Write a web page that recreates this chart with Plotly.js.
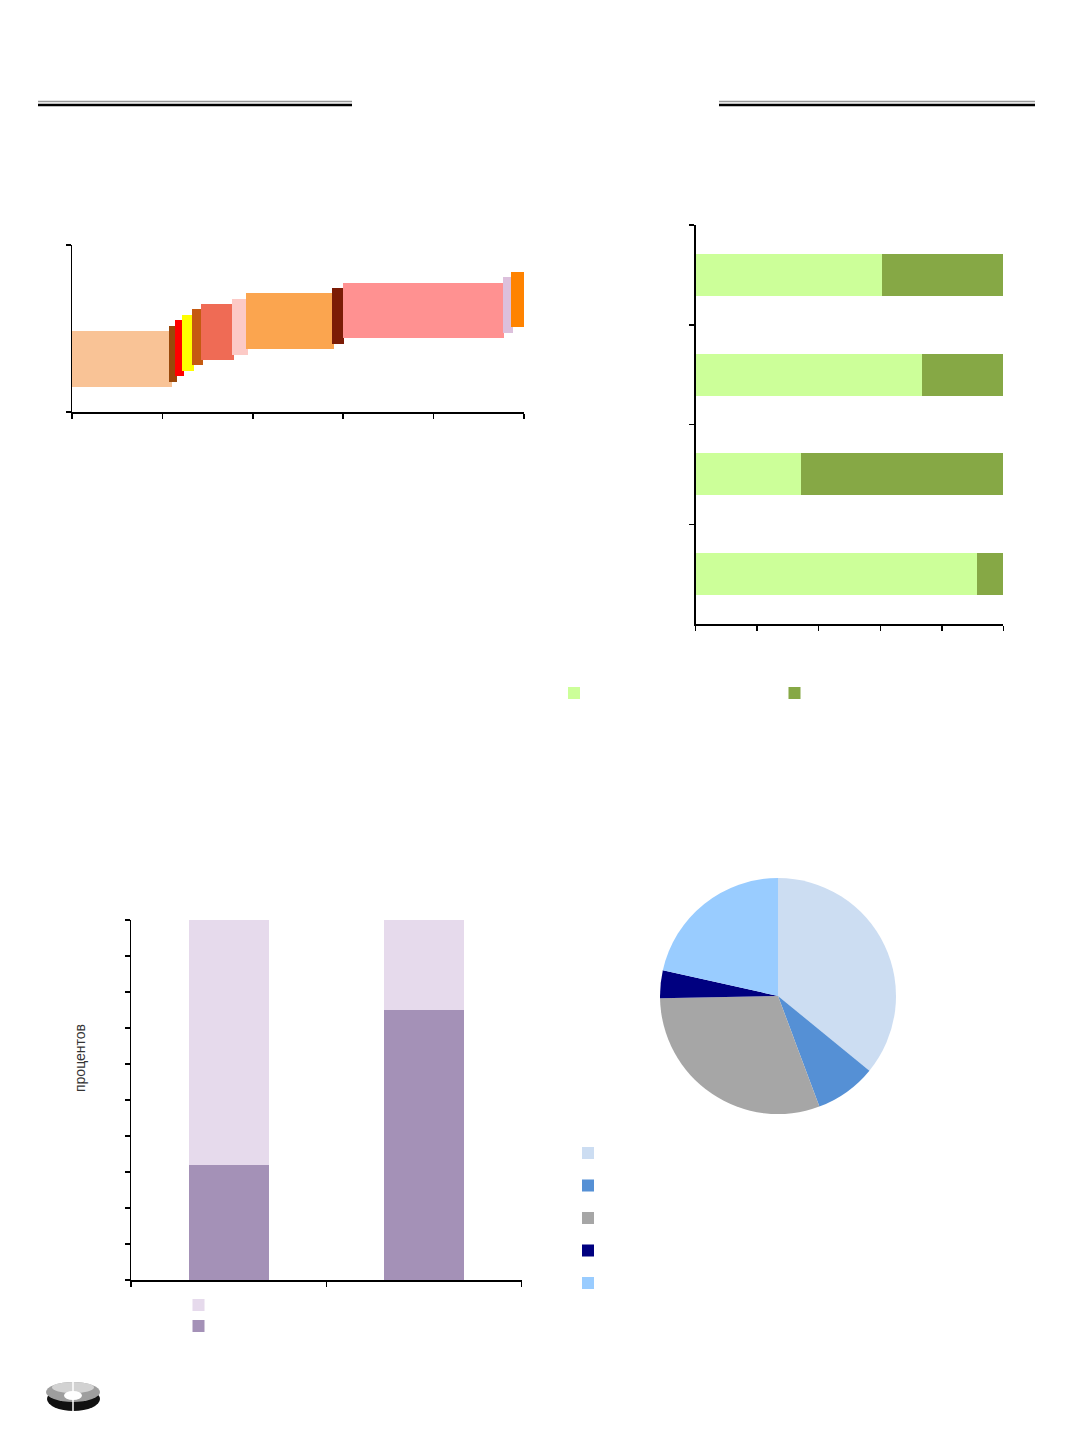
<!DOCTYPE html>
<html>
<head>
<meta charset="utf-8">
<script src="https://cdn.plot.ly/plotly-3.0.1.min.js"></script>
<style>
  html, body { margin: 0; padding: 0; background: #ffffff; }
  #chart { width: 1072px; height: 1433px; }
</style>
</head>
<body>
<div id="chart"></div>
<script>
// ---------- Chart 1 (top left): floating variable-width bars ----------
const c1Start = [0, 21.5, 22.85, 24.4, 26.55, 28.5, 35.4, 38.6, 57.6, 60.0, 95.3, 97.1];
const c1End   = [22.05, 23.2, 24.85, 26.9, 28.9, 35.8, 38.9, 58.0, 60.2, 95.6, 97.5, 100];
const c1Low   = [15.1, 18.1, 21.6, 24.7, 28.0, 31.1, 34.3, 37.5, 40.7, 44.5, 47.3, 50.7];
const c1High  = [48.5, 51.5, 55.1, 58.1, 61.5, 64.7, 67.8, 71.3, 74.3, 77.2, 80.8, 84.0];
const c1Colors = ['#F9C396', '#99480A', '#FF0000', '#FFFF00', '#C55A11', '#EF6B55',
                  '#FCCAC6', '#FBA54F', '#7B1C06', '#FF9191', '#DCC0DC', '#FF8300'];

// ---------- Chart 2 (top right): 100% stacked horizontal bars ----------
const c2Categories = ['1', '2', '3', '4'];          // top to bottom
const c2Light = [60.7, 73.6, 34.2, 91.5];
const c2Dark  = [39.3, 26.4, 65.8, 8.5];

// ---------- Chart 3 (bottom left): 100% stacked columns ----------
const c3Categories = ['1', '2'];
const c3Dark  = [32, 75];
const c3Light = [68, 25];
const c3YTitle = 'процентов';

// ---------- Chart 4 (bottom right): pie ----------
const c4Labels = ['\u00a0', '\u00a0\u00a0', '\u00a0\u00a0\u00a0', '\u00a0\u00a0\u00a0\u00a0', '\u00a0\u00a0\u00a0\u00a0\u00a0'];
const c4Values = [35.9, 8.4, 30.4, 3.8, 21.5];
const c4Colors = ['#CCDDF2', '#5590D5', '#A6A6A6', '#000080', '#99CCFF'];

// ---------- helpers: page pixels -> paper fractions ----------
const W = 1072, H = 1433;
const px = v => v / W;
const py = v => 1 - v / H;

const traces = [
  {
    type: 'bar', xaxis: 'x', yaxis: 'y',
    x: c1Start, offset: 0,
    width: c1Start.map((s, i) => c1End[i] - s),
    base: c1Low,
    y: c1Low.map((b, i) => c1High[i] - b),
    marker: { color: c1Colors, line: { width: 0 } },
    showlegend: false, hoverinfo: 'skip'
  },
  {
    type: 'bar', orientation: 'h', xaxis: 'x2', yaxis: 'y2',
    y: c2Categories, x: c2Light, width: 0.42,
    name: '\u00a0', marker: { color: '#CCFF99', line: { width: 0 } },
    legend: 'legend'
  },
  {
    type: 'bar', orientation: 'h', xaxis: 'x2', yaxis: 'y2',
    y: c2Categories, x: c2Dark, width: 0.42,
    name: '\u00a0\u00a0', marker: { color: '#86A845', line: { width: 0 } },
    legend: 'legend2'
  },
  {
    type: 'bar', xaxis: 'x3', yaxis: 'y3',
    x: c3Categories, y: c3Dark, width: 0.41,
    name: '\u00a0', marker: { color: '#A491B7', line: { width: 0 } },
    legend: 'legend3'
  },
  {
    type: 'bar', xaxis: 'x3', yaxis: 'y3',
    x: c3Categories, y: c3Light, width: 0.41,
    name: '\u00a0\u00a0', marker: { color: '#E6DAEC', line: { width: 0 } },
    legend: 'legend3'
  },
  {
    type: 'pie',
    labels: c4Labels, values: c4Values,
    marker: { colors: c4Colors, line: { width: 0 } },
    sort: false, direction: 'clockwise', rotation: 0,
    textinfo: 'none', hoverinfo: 'percent',
    domain: { x: [px(778 - 118), px(778 + 118)], y: [py(996 + 118), py(996 - 118)] },
    legend: 'legend4'
  }
];

const axisBase = {
  showline: true, linecolor: '#000000', linewidth: 1.5, mirror: false,
  ticks: 'outside', ticklen: 5, tickwidth: 1.5, tickcolor: '#000000',
  showticklabels: false, showgrid: false, zeroline: false, fixedrange: true
};

function line(x0, x1, y, color, width) {
  return { type: 'line', xref: 'paper', yref: 'paper', x0: px(x0), x1: px(x1), y0: py(y), y1: py(y),
           line: { color: color, width: width } };
}
function ellipse(x0, x1, y0, y1, color) {
  return { type: 'circle', xref: 'paper', yref: 'paper', x0: px(x0), x1: px(x1), y0: py(y1), y1: py(y0),
           fillcolor: color, line: { width: 0 }, layer: 'above' };
}

const legendBase = {
  xanchor: 'left', yanchor: 'top', bgcolor: 'rgba(0,0,0,0)', borderwidth: 0,
  orientation: 'v', font: { family: 'Liberation Sans, Arial, sans-serif', size: 12, color: '#000' }
};

const layout = {
  width: W, height: H,
  margin: { l: 0, r: 0, t: 0, b: 0, pad: 0 },
  paper_bgcolor: '#ffffff', plot_bgcolor: '#ffffff',
  font: { family: 'Liberation Sans, Arial, sans-serif', size: 12, color: '#000' },
  barmode: 'stack',
  showlegend: true,
  xaxis: Object.assign({}, axisBase, { domain: [px(72), px(524)], range: [0, 100], dtick: 20, tick0: 0, anchor: 'y' }),
  yaxis: Object.assign({}, axisBase, { domain: [py(412), py(245)], range: [0, 100], tickvals: [0, 100], anchor: 'x' }),
  xaxis2: Object.assign({}, axisBase, { domain: [px(695.7), px(1003.3)], range: [0, 100], dtick: 20, tick0: 0, anchor: 'y2' }),
  yaxis2: Object.assign({}, axisBase, { domain: [py(624), py(225)], type: 'category', tickson: 'boundaries',
           autorange: 'reversed', anchor: 'x2' }),
  xaxis3: Object.assign({}, axisBase, { domain: [px(131), px(521.7)], type: 'category', tickson: 'boundaries', anchor: 'y3' }),
  yaxis3: Object.assign({}, axisBase, { domain: [py(1280), py(920)], range: [0, 100], dtick: 10, tick0: 0, anchor: 'x3' }),
  annotations: [
    { text: c3YTitle, xref: 'paper', yref: 'paper', x: px(80), y: py(1058), textangle: -90,
      showarrow: false, xanchor: 'center', yanchor: 'middle',
      font: { family: 'Liberation Sans, Arial, sans-serif', size: 14, color: '#333333' } }
  ],
  legend:  Object.assign({}, legendBase, { x: px(554), y: py(678.5) }),
  legend2: Object.assign({}, legendBase, { x: px(774.5), y: py(678.5) }),
  legend3: Object.assign({}, legendBase, { x: px(178.5), y: py(1289.5), traceorder: 'reversed',
           font: { family: 'Liberation Sans, Arial, sans-serif', size: 13.85, color: '#000' } }),
  legend4: Object.assign({}, legendBase, { x: px(568), y: py(1131.75),
           font: { family: 'Liberation Sans, Arial, sans-serif', size: 22.7, color: '#000' } }),
  shapes: [
    line(38, 352, 101.6, '#9A9A9A', 1.5),
    line(38, 352, 104.9, '#000000', 2.5),
    line(719, 1035, 101.6, '#9A9A9A', 1.5),
    line(719, 1035, 104.9, '#000000', 2.5),
    // logo
    ellipse(47, 100, 1387, 1411, '#111111'),
    ellipse(46, 100, 1382, 1402, '#9E9E9E'),
    ellipse(52, 94, 1382, 1393, '#D2D2D2'),
    ellipse(64, 82, 1391, 1400, '#FFFFFF'),
    { type: 'line', xref: 'paper', yref: 'paper', x0: px(73), x1: px(73), y0: py(1382), y1: py(1411),
      line: { color: '#FFFFFF', width: 1.5 }, layer: 'above' }
  ],
  hovermode: false
};

Plotly.newPlot('chart', traces, layout, { displayModeBar: false, staticPlot: true });
</script>
</body>
</html>
